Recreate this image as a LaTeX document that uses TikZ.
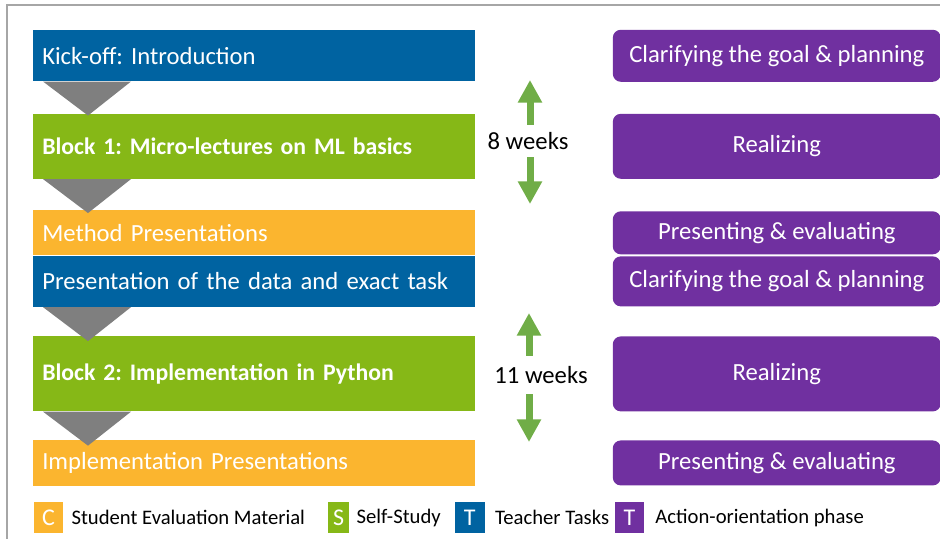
\documentclass[tikz,border=0pt]{standalone}
\usepackage{fontspec}
\setmainfont{Carlito}
\usetikzlibrary{positioning}
\usetikzlibrary{arrows.meta}
\definecolor{teacher}{HTML}{0063A1}
\definecolor{selfstudy}{HTML}{86B817}
\definecolor{evalmat}{HTML}{FBB52F}
\definecolor{action}{HTML}{7030A0}
\definecolor{wkgreen}{HTML}{70AD47}
\definecolor{chevgray}{HTML}{7F7F7F}
\definecolor{framegray}{HTML}{A6A6A6}
\frenchspacing

\tikzset{
  stage/.style={fill=#1, text=white, inner xsep=6.75pt, inner ysep=0pt, text width=318pt, align=left, font=\fontsize{18.5}{22}\selectfont},
  boldstage/.style={stage=#1, font=\fontsize{17.8}{22}\selectfont\bfseries},
  phase/.style={fill=action, text=white, rounded corners=6pt, minimum width=246pt, inner sep=0pt, align=center, font=\fontsize{18.5}{22}\selectfont},
  weeks/.style={inner sep=0pt, minimum height=24pt, font=\fontsize{18.5}{22}\selectfont},
  wkarrow/.style={draw=wkgreen, line width=5.25pt, -{Triangle[length=17pt, width=17.25pt]}},
  chev/.style={fill=chevgray},
  key/.style={fill=#1, text=white, minimum width=21.75pt, minimum height=23.25pt, inner sep=0pt, font=\fontsize{18}{20}\selectfont},
  keytext/.style={inner sep=0pt, font=\fontsize{15.5}{18}\selectfont}
}

\begin{document}
\begin{tikzpicture}[x=0.75pt, y=-0.75pt]
  \useasboundingbox (0,0) rectangle (940,539);
  \draw[framegray, line width=1.1pt] (7,539) -- (7,5) -- (940,5);

  % Define nodes
  \node[stage=teacher, minimum height=38.25pt, anchor=north west] (kick) at (33,30) {Kick-off: Introduction};
  \node[boldstage=selfstudy, minimum height=48.75pt, below=24pt of kick] (block1) {Block 1: Micro-lectures on ML basics};
  \node[stage=evalmat, minimum height=33.75pt, below=23.25pt of block1] (method) {Method Presentations};
  \node[stage=teacher, minimum height=38.25pt, below=0pt of method] (data) {Presentation of the data and exact task};
  \node[boldstage=selfstudy, minimum height=56.25pt, below=21.75pt of data] (block2) {Block 2: Implementation in Python};
  \node[stage=evalmat, minimum height=34.5pt, below=21pt of block2] (impl) {Implementation Presentations};

  \node[phase, minimum height=39pt, right=102.75pt of kick] (clar1) {Clarifying the goal \& planning};
  \node[phase, minimum height=48.75pt, right=102.75pt of block1] (real1) {Realizing};
  \node[phase, minimum height=32.25pt, right=102.75pt of method] (pres1) {Presenting \& evaluating};
  \node[phase, minimum height=37.5pt, right=102.75pt of data] (clar2) {Clarifying the goal \& planning};
  \node[phase, minimum height=56.25pt, right=102.75pt of block2] (real2) {Realizing};
  \node[phase, minimum height=33.75pt, right=102.75pt of impl] (pres2) {Presenting \& evaluating};

  \node[weeks] (w8) at (528,141) {8 weeks};
  \coordinate (w8up) at (530,80);
  \coordinate (w8dn) at (530,204);
  \node[weeks, minimum height=28.5pt] (w11) at (541,375) {11 weeks};
  \coordinate (w11up) at (529,313);
  \coordinate (w11dn) at (529,442);

  % Legend
  \node[key=evalmat] (kc) at (48.5,517.5) {C};
  \node[keytext, right=6pt of kc] (kctext) {Student Evaluation Material};
  \node[key=selfstudy, minimum width=15.75pt, right=17pt of kctext] (ks) {S};
  \node[keytext, right=5.25pt of ks] (kstext) {Self-Study};
  \node[key=teacher, minimum width=22.5pt, right=10pt of kstext] (kt) {T};
  \node[keytext, right=7.5pt of kt] (kttext) {Teacher Tasks};
  \node[key=action, right=4pt of kttext] (ka) {T};
  \node[keytext, right=8.25pt of ka] (katext) {Action-orientation phase};

  % Connect the nodes
  \foreach \n in {kick,block1,data,block2}
    \fill[chev] ([xshift=7.5pt]\n.south west) -- ([xshift=73.5pt]\n.south west) -- ([xshift=41.25pt,yshift=-25.5pt]\n.south west) -- cycle;
  \draw[wkarrow] (w8.north -| w8up) -- (w8up);
  \draw[wkarrow] (w8.south -| w8dn) -- (w8dn);
  \draw[wkarrow] (w11.north -| w11up) -- (w11up);
  \draw[wkarrow] (w11.south -| w11dn) -- (w11dn);

\end{tikzpicture}
\end{document}
